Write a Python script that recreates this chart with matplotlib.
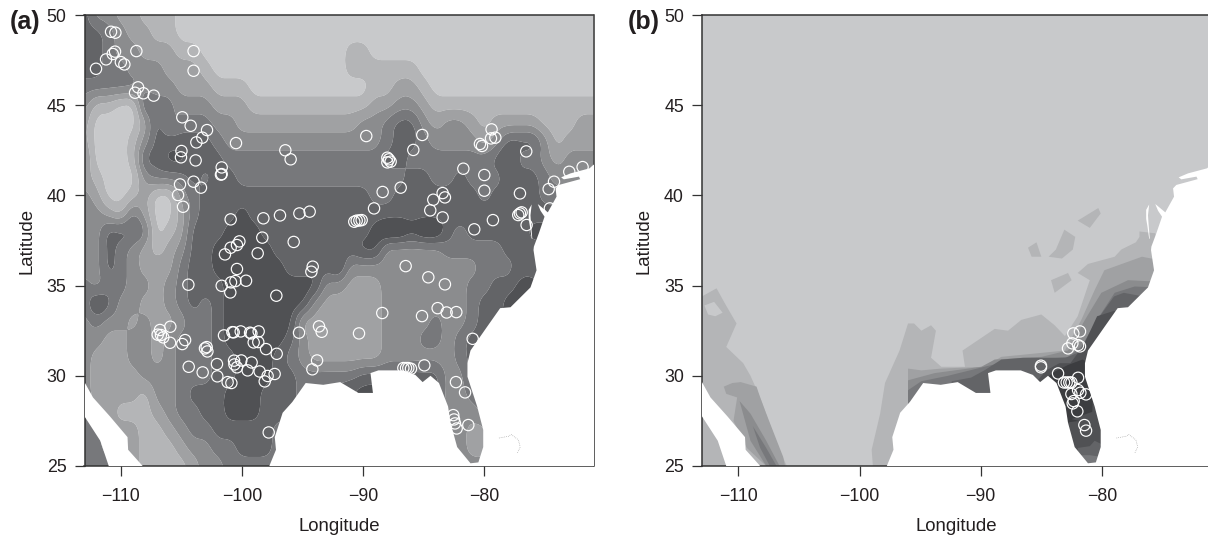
import numpy as np
import matplotlib
matplotlib.use("Agg")
import matplotlib.pyplot as plt

plt.rcParams['font.family'] = ['Liberation Sans', 'DejaVu Sans']

W, H = 1208, 535
tick_lon = [-110, -100, -90, -80]
tick_lat = [25, 30, 35, 40, 45, 50]
grey_levels = ['#c8c9cb', '#b4b5b7', '#a0a1a3', '#8b8c8e', '#77787b', '#636467', '#505154', '#3c3d40']

# climate surface of panel (a): level per degree, lat 50 -> 25, lon -113 -> -71
grid_lat = list(range(50, 24, -1))
grid_lon = list(range(-113, -70))
surface_a = [
    "5332211100 0000000000 0000000000 0000000000 000",
    "5543221100 0000000000 0000000000 0000000000 000",
    "5543322211 0000000000 0011000000 0000000000 000",
    "5544333222 1000000000 0011111100 0000000000 000",
    "4444433322 2111000000 0000112210 0000000000 000",
    "3110054433 3222111111 1111223321 1111111111 111",
    "2000025344 4332222222 2223345532 3321222211 122",
    "2000135555 5433333333 3333345543 3332355531 222",
    "3000155665 5544444444 4444455444 4444564432 333",
    "2100034445 4554444444 4444444554 4544455543 333",
    "3200120034 5555555555 5555445555 5554555544 444",
    "3321420024 5556555555 5555555555 5555555555 444",
    "3355540125 5566655555 5555677677 5455555666 444",
    "3354321235 5666665555 5556633333 4444455555 555",
    "3354322245 5666666555 5633333333 3334445555 555",
    "4344332345 5566666666 3322233333 3344556655 555",
    "4653322345 4566666663 2222233333 3345566666 666",
    "3433232234 4566666622 2222233334 3345566666 666",
    "3322332344 4566666532 2222233344 3455566666 666",
    "3222332344 4556665432 2222233333 3455566666 666",
    "3222233344 4556665544 4445555555 3355566666 666",
    "3222213345 5566655544 5566666655 3344666666 666",
    "4221112344 5566655544 4444444444 3334444444 444",
    "4422211234 4555554444 4444444444 3322444444 444",
    "4432211123 3445554444 4444444444 3322444444 444",
    "4442211112 3344444444 4444444444 3333444444 444",
]

# coast: the sea is everything east/south of this line
coast_lon = [-71.0, -71.33, -72.9, -73.67, -73.45, -72.2, -72.1, -73.86, -74.13, -74.05, -74.77, -75.43, -75.6,
             -75.37, -75.04, -75.51, -75.92, -75.95, -75.7, -76.2, -77.85, -78.7, -79.8, -81.15, -81.4, -81.4,
             -80.6, -80.1, -80.1, -80.5, -81.15, -82.25, -82.8, -83.0, -83.75, -84.45, -85.1, -85.7, -86.7,
             -88.75, -89.4, -89.2, -90.4, -91.9, -93.3, -94.75, -95.85, -96.65, -97.3, -97.2, -97.75]
coast_lat = [41.7, 41.5, 41.22, 41.0, 40.89, 41.04, 40.9, 40.58, 40.39, 39.93, 39.06, 39.43, 39.52,
             39.15, 38.82, 37.9, 37.16, 36.97, 35.85, 34.9, 33.8, 33.75, 32.7, 31.4, 30.7, 29.95,
             28.3, 27.0, 26.05, 25.2, 25.15, 26.05, 27.4, 28.3, 29.6, 30.0, 29.65, 30.05, 30.3,
             30.3, 30.15, 29.05, 29.05, 29.65, 29.5, 29.6, 28.55, 27.95, 26.6, 25.9, 25.0]
gulf_ca_lon = [-113.0, -112.3, -110.9, -109.45, -109.4, -108.2, -111.0, -111.7, -113.0]
gulf_ca_lat = [29.65, 28.8, 27.75, 26.6, 25.9, 25.0, 25.0, 26.4, 27.75]
chesapeake_lon = [-76.1, -76.35, -76.35, -76.25, -76.1, -76.05, -76.15, -76.2]
chesapeake_lat = [39.5, 39.2, 38.7, 38.3, 37.6, 37.6, 38.4, 38.9]
bahamas_lon = [-78.8, -78.0, -77.8, -77.2, -77.05, -77.3]
bahamas_lat = [26.55, 26.65, 26.75, 26.45, 26.05, 25.7]

# panel (a) sites
a_lon = [-110.81, -110.45, -110.48, -110.67, -108.72, -111.22, -110.0, -109.71, -112.05, -104.0, -104.0, -108.58,
         -108.83, -108.14, -107.29, -104.93, -104.24, -102.89, -103.28, -103.77, -100.5, -96.43, -95.99, -105.0,
         -105.04, -103.83, -101.68, -101.68, -101.74, -104.0, -105.12, -103.39, -105.28, -104.87, -100.94, -98.24,
         -96.87, -95.27, -94.42, -98.33, -100.22, -100.42, -100.94, -95.74, -101.41, -98.71,
         -100.42, -94.17, -94.28, -104.43, -101.68, -100.91, -100.55, -99.67, -100.97, -97.17,
         -105.92, -106.77, -106.96, -106.69, -106.5, -105.94, -104.7, -104.93, -101.49, -100.8, -100.69, -100.11,
         -99.34, -99.23, -98.63, -99.04, -98.66, -98.02, -97.14, -103.06, -102.92, -102.86, -102.07, -100.66,
         -100.06, -100.63, -100.42, -99.21, -99.54, -98.55, -97.89, -97.31, -98.13, -104.4, -103.25, -102.04,
         -101.19, -100.88, -97.8, -95.3, -93.65, -93.43, -93.81, -94.2,
         -89.75, -85.13, -85.87, -88.01, -87.88, -87.74, -88.01, -79.41, -79.1, -79.46, -80.37, -80.2, -76.55,
         -81.74, -80.01, -80.01, -71.9, -73.0, -74.26, -74.7, -77.07, -86.91, -88.4, -89.11, -90.74, -90.54,
         -90.32, -90.13, -83.45, -83.26, -84.22, -84.47, -83.45, -80.84, -79.3, -77.21, -76.93, -77.07, -74.6,
         -76.52, -86.5, -84.63, -83.26, -83.86, -83.12, -82.32, -85.15, -88.43, -90.35, -84.96, -86.69, -86.47,
         -86.28, -86.06, -82.35, -81.6, -81.33, -80.97, -82.57, -82.51, -82.43, -82.29]
a_lat = [49.07, 49.02, 47.97, 47.84, 48.0, 47.54, 47.39, 47.26, 47.02, 48.0, 46.91, 45.99,
         45.69, 45.66, 45.53, 44.33, 43.86, 43.62, 43.2, 42.94, 42.9, 42.5, 42.0, 42.46,
         42.11, 41.94, 41.55, 41.18, 41.15, 40.76, 40.61, 40.43, 40.02, 39.37, 38.67, 38.73,
         38.89, 39.0, 39.1, 37.66, 37.45, 37.25, 37.1, 37.42, 36.73, 36.79,
         35.92, 36.05, 35.77, 35.05, 34.99, 35.18, 35.25, 35.27, 34.62, 34.44,
         32.72, 32.54, 32.28, 32.26, 32.13, 31.83, 31.98, 31.76, 32.24, 32.42, 32.41, 32.46,
         32.39, 32.35, 32.46, 31.85, 31.87, 31.48, 31.22, 31.52, 31.59, 31.35, 30.65, 30.84,
         30.85, 30.63, 30.47, 30.74, 30.3, 30.24, 29.99, 30.1, 29.69, 30.5, 30.19, 29.97,
         29.65, 29.6, 26.86, 32.39, 32.74, 32.44, 30.85, 30.36,
         43.29, 43.35, 42.52, 42.09, 42.0, 41.87, 41.83, 43.66, 43.2, 43.16, 42.85, 42.74, 42.44,
         41.48, 41.13, 40.26, 41.57, 41.31, 40.76, 40.35, 40.11, 40.43, 40.19, 39.28, 38.54, 38.6,
         38.61, 38.63, 40.13, 39.89, 39.76, 39.17, 38.78, 38.12, 38.63, 38.91, 39.06, 39.0, 39.28,
         38.36, 36.08, 35.46, 35.07, 33.75, 33.51, 33.53, 33.31, 33.48, 32.35, 30.58, 30.43, 30.43,
         30.43, 30.39, 29.65, 29.08, 27.27, 32.05, 27.82, 27.58, 27.36, 27.08]

# panel (b) sites
b_lon = [-82.36, -81.81, -82.44, -82.8, -81.97, -81.81, -85.03, -85.03, -83.62, -83.13, -82.91, -82.69, -82.52,
         -81.97, -81.97, -82.52, -81.78, -81.31, -82.33, -82.41, -82.03, -81.45, -81.31]
b_lat = [32.35, 32.46, 31.8, 31.52, 31.7, 31.63, 30.56, 30.47, 30.13, 29.63, 29.63, 29.63, 29.63,
         29.89, 29.21, 28.99, 29.06, 28.97, 28.6, 28.47, 28.03, 27.27, 26.96]

# panel (b) climate zones: (level, lon, lat)
zones_b = [
    (1, [-113.0, -111.8, -111.1, -110.15, -111.0, -109.6, -109.0, -108.2, -107.7, -106.85, -106.0, -113.0],
        [34.4, 34.85, 34.0, 32.9, 31.6, 30.7, 30.0, 28.8, 27.9, 26.25, 25.0, 25.0]),
    (0, [-112.8, -112.0, -111.3, -111.9, -112.5], [33.9, 34.1, 33.5, 33.3, 33.4]),
    (2, [-111.2, -110.5, -109.8, -108.5, -108.2, -107.7, -106.3, -106.15, -107.7, -109.3, -110.4, -110.1, -111.0],
        [29.4, 29.6, 29.65, 29.4, 28.8, 27.9, 25.5, 25.0, 25.0, 26.0, 27.5, 28.8, 29.0]),
    (3, [-109.9, -109.0, -107.7, -106.6, -107.7, -109.0], [28.6, 27.9, 26.4, 25.0, 25.0, 26.4]),
    (4, [-108.8, -107.7, -106.85, -107.4, -108.2], [27.2, 26.0, 25.0, 25.0, 26.0]),
    (1, [-98.9, -99.0, -98.3, -97.9, -96.7, -96.0, -95.5, -94.9, -94.1, -93.7, -94.1, -93.25, -91.3, -91.5, -88.85,
         -87.75, -86.65, -85.0, -83.9, -83.05, -82.0, -81.0, -82.0, -81.15, -78.95, -78.4, -77.2, -76.9, -76.9,
         -75.6, -75.3, -72.0, -72.0],
        [25.0, 25.9, 27.9, 29.6, 31.4, 32.9, 32.9, 32.5, 32.8, 32.5, 31.0, 30.5, 30.5, 31.4, 32.6,
         32.5, 33.1, 33.4, 32.8, 32.2, 33.3, 35.3, 35.7, 36.2, 36.6, 37.0, 37.4, 37.7, 38.0,
         37.9, 37.0, 36.0, 25.0]),
    (1, [-84.2, -82.8, -82.5, -83.9], [35.3, 35.7, 35.3, 34.6]),
    (1, [-82.0, -80.3, -80.1, -81.0], [38.6, 39.3, 39.0, 38.2]),
    (1, [-83.8, -83.1, -82.2, -82.4, -83.3, -84.4], [37.0, 38.1, 37.7, 37.0, 36.5, 36.6]),
    (1, [-86.1, -85.4, -85.0, -85.8], [37.1, 37.4, 36.6, 36.6]),
    (2, [-96.0, -94.9, -93.25, -89.7, -88.3, -85.3, -83.05, -81.7, -80.6, -79.8, -76.7, -72.0, -72.0, -96.0],
        [30.4, 30.3, 30.4, 30.5, 31.05, 31.25, 31.4, 33.1, 34.75, 35.85, 36.6, 36.0, 25.0, 25.0]),
    (3, [-96.0, -93.8, -89.95, -88.85, -85.0, -82.8, -81.4, -80.05, -77.85, -72.0, -72.0, -96.0],
        [29.75, 30.15, 30.5, 30.9, 31.05, 31.4, 33.1, 34.6, 35.3, 35.1, 25.0, 25.0]),
    (4, [-96.0, -94.9, -92.7, -89.1, -86.4, -82.8, -81.7, -80.6, -78.95, -77.3, -72.0, -72.0, -96.0],
        [29.2, 29.7, 30.0, 30.6, 30.8, 31.05, 31.6, 32.9, 34.6, 34.95, 34.8, 25.0, 25.0]),
    (5, [-92.4, -90.8, -89.7, -88.3, -86.5, -85.0, -83.0, -81.9, -80.5, -79.0, -78.2, -76.6, -72.0, -72.0, -92.4],
        [29.7, 29.9, 30.3, 30.9, 31.0, 31.0, 31.0, 31.3, 33.0, 34.4, 34.6, 34.4, 32.0, 25.0, 25.0]),
    (6, [-85.6, -84.6, -83.5, -82.6, -81.5, -80.4, -79.0, -72.0, -72.0, -84.0, -84.2, -85.6],
        [29.5, 30.3, 30.7, 30.7, 31.7, 33.3, 33.6, 32.0, 25.0, 25.0, 29.0, 29.0]),
    (7, [-85.0, -84.0, -82.8, -81.6, -80.6, -80.8, -82.5, -81.9, -83.0, -84.4],
        [29.6, 30.2, 30.6, 30.9, 30.6, 28.0, 27.6, 27.5, 27.4, 29.2]),
    (5, [-82.0, -81.0, -80.6, -80.0, -80.0, -82.0], [26.0, 26.1, 26.4, 26.2, 25.0, 25.0]),
    (4, [-82.0, -81.0, -80.0, -80.0, -82.0], [25.6, 25.6, 25.5, 25.0, 25.0]),
]


def smooth_surface(z, factor=8, width=9):
    """Fine-grid version of the level table: round the 1-degree steps off for drawing."""
    ny, nx = z.shape
    xi = np.linspace(0, nx - 1, (nx - 1) * factor + 1)
    yi = np.linspace(0, ny - 1, (ny - 1) * factor + 1)
    fine = np.array([np.interp(xi, np.arange(nx), r) for r in z])
    fine = np.array([np.interp(yi, np.arange(ny), c) for c in fine.T]).T
    kernel = np.ones(width) / width
    pad = width // 2
    for axis in (0, 1):
        padded = np.pad(fine, [(pad, pad) if a == axis else (0, 0) for a in (0, 1)], mode='edge')
        fine = np.apply_along_axis(lambda m: np.convolve(m, kernel, mode='valid'), axis, padded)
    return xi, yi, fine


def base_axes(left, label):
    ax = fig.add_axes([left / W, (H - 466) / H, 509 / W, 451 / H])
    ax.set_xlim(-113.0, -71.0)
    ax.set_ylim(25, 50)
    ax.set_xticks(tick_lon)
    ax.set_yticks(tick_lat)
    ax.set_xticklabels([f"\u2212{abs(v)}" for v in tick_lon])
    ax.tick_params(axis='x', length=7, width=0.9, pad=8.5, labelsize=12.8, color='#333333', labelcolor='#231f20')
    ax.tick_params(axis='y', length=7, width=0.9, pad=6, labelsize=12.8, color='#333333', labelcolor='#231f20')
    for s in ax.spines.values():
        s.set_linewidth(1.1)
        s.set_color('#333333')
    ax.set_xlabel('Longitude', fontsize=13.4, color='#231f20', labelpad=9.5)
    ax.set_ylabel('Latitude', fontsize=13.4, color='#231f20', labelpad=8)
    fig.text((left - 74.5) / W, 1 - 22 / H, label, fontsize=18, fontweight='bold', color='#231f20',
             ha='left', va='center')
    return ax


def draw_sea(ax):
    ax.fill(coast_lon + [-70.0, -70.0], coast_lat + [25.0, 41.7], color='white', lw=0, zorder=3)
    ax.fill(gulf_ca_lon, gulf_ca_lat, color='white', lw=0, zorder=3)
    ax.fill(chesapeake_lon, chesapeake_lat, color='white', lw=0, zorder=3)
    ax.plot(bahamas_lon, bahamas_lat, color='#999999', lw=0.5, ls=':', zorder=3)


def draw_sites(ax, lon, lat):
    ax.scatter(lon, lat, s=66, facecolors='none', edgecolors='white', linewidths=0.85, zorder=5, clip_on=True)


fig = plt.figure(figsize=(W / 100, H / 100), dpi=100, facecolor='white')

ax_a = base_axes(84.5, '(a)')
Z = np.array([[int(c) for c in row.replace(' ', '')] for row in surface_a], dtype=float)
xi, yi, Z_fine = smooth_surface(Z)
ax_a.contourf(grid_lon[0] + xi, grid_lat[0] - yi, Z_fine, levels=np.arange(-0.5, 8.5, 1.0),
              colors=grey_levels, antialiased=True, zorder=1)
draw_sea(ax_a)
draw_sites(ax_a, a_lon, a_lat)

ax_b = base_axes(702, '(b)')
ax_b.set_facecolor(grey_levels[0])
for order, (level, lon, lat) in enumerate(zones_b):
    ax_b.fill(lon, lat, color=grey_levels[level], lw=0, zorder=1 + order * 0.05)
draw_sea(ax_b)
draw_sites(ax_b, b_lon, b_lat)

fig.savefig('out.png', dpi=100)
